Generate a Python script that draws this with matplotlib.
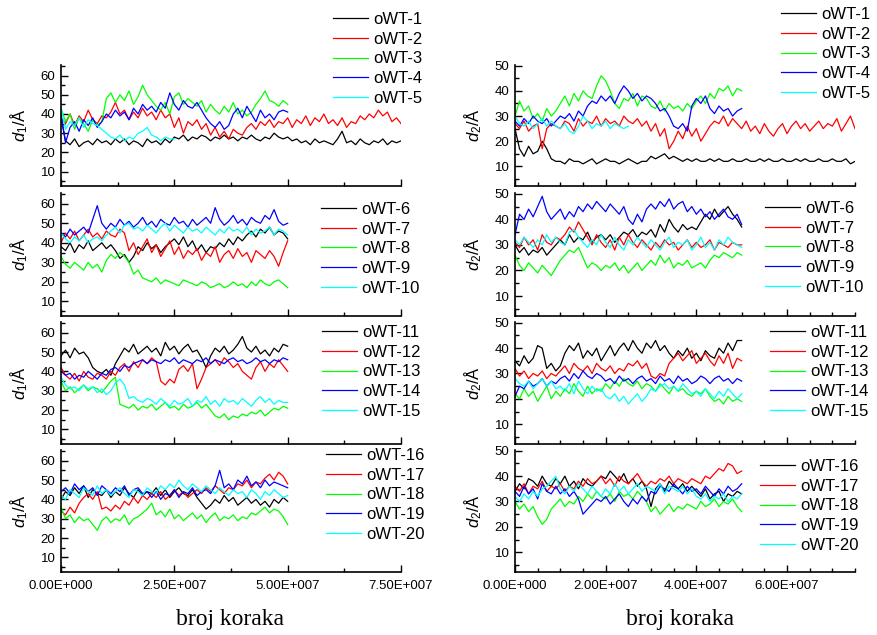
import numpy as np
import matplotlib
matplotlib.use('Agg')
import matplotlib.pyplot as plt
from matplotlib.ticker import MultipleLocator, FuncFormatter

plt.rcParams['font.family'] = ['Liberation Sans', 'DejaVu Sans']
plt.rcParams['mathtext.fontset'] = 'custom'
plt.rcParams['mathtext.it'] = 'Liberation Sans:italic'
plt.rcParams['mathtext.rm'] = 'Liberation Sans'

# one sample every 1e6 steps
STEP = 1e6

# ---- d1 (left column) ----
d1_wt1 = [38,26,24,27,23,25,26,24,27,25, 26,24,27,25,27,24,26,25,23,27,
          25,26,24,27,25,28,27,29,26,28, 27,29,28,26,28,27,29,27,28,26,
          28,27,29,27,26,28,27,30,28,27, 28,26,27,25,26,24,27,25,26,25,
          24,27,31,25,26,24,27,25,24,26, 25,27,24,26,25,26]
d1_wt2 = [38,35,40,34,39,36,42,37,35,39, 38,41,46,40,42,37,41,38,43,39,
          41,37,42,38,40,33,38,30,36,34, 37,32,35,29,33,28,31,27,32,30,
          29,33,35,32,36,34,37,33,36,35, 38,33,37,35,39,34,38,36,40,35,
          37,34,38,33,36,35,39,37,40,38, 42,39,41,36,38,35]
d1_wt3 = [43,36,40,32,38,35,31,37,34,36, 48,51,46,50,47,52,45,49,55,50,
          47,44,42,46,40,49,51,45,48,46, 44,47,41,45,42,40,44,41,46,40,
          42,39,41,45,48,52,47,46,44,47, 45]
d1_wt4 = [40,25,33,36,31,37,34,38,33,36, 40,38,42,39,41,37,43,40,45,42,
          44,41,46,43,51,45,42,47,44,43, 46,42,38,35,33,36,32,34,40,43,
          38,44,40,36,42,38,40,37,41,42, 41]
d1_wt5 = [43,32,36,34,38,33,37,35,34,32, 30,28,27,29,26,28,27,30,31,33,
          29,28,26,28,27,27]

d1_wt6 = [38,36,40,35,39,37,41,36,38,40, 37,39,36,32,34,30,33,38,36,40,
          37,39,35,38,40,42,39,43,38,41, 36,39,35,38,37,40,38,42,39,43,
          41,44,46,43,47,45,48,44,46,45, 42]
d1_wt7 = [40,45,42,46,41,44,47,43,45,42, 46,44,43,47,45,36,40,34,38,42,
          35,39,33,37,41,34,38,32,36,34, 37,31,35,33,38,30,34,36,32,37,
          33,35,30,36,34,32,36,33,28,35, 41]
d1_wt8 = [33,29,27,30,28,26,30,27,29,25, 31,34,32,35,33,30,24,26,22,21,
          20,22,19,21,20,19,18,21,20,19, 18,20,19,17,18,19,17,18,20,18,
          19,17,20,18,21,19,18,20,21,19, 17]
d1_wt9 = [45,43,47,44,46,48,45,52,59,50, 47,50,48,52,49,51,48,50,53,49,
          51,48,52,50,49,53,50,51,48,52, 49,51,53,50,58,52,49,51,54,50,
          52,49,53,51,50,54,52,57,51,49, 50]
d1_wt10 = [45,42,40,43,41,44,40,42,43,41, 44,46,48,45,49,50,47,48,46,49,
           47,45,48,50,46,49,47,45,48,46, 47,45,48,46,44,47,45,48,46,47,
           45,48,44,47,45,46,48,44,47,46, 44]

d1_wt11 = [48,51,47,52,49,50,47,42,40,39, 41,38,44,48,52,50,54,49,51,53,
           50,52,48,55,51,53,49,52,54,50, 51,47,42,48,52,50,53,49,51,54,
           58,52,50,53,49,51,48,52,50,54, 53]
d1_wt12 = [42,38,36,39,35,40,37,36,39,38, 36,40,38,42,44,40,45,42,46,44,
           47,45,35,33,36,34,41,43,40,44, 31,36,42,44,46,43,47,45,42,44,
           40,38,36,42,45,40,44,42,46,43, 40]
d1_wt13 = [35,30,32,29,31,33,30,32,31,29, 32,35,37,23,22,21,23,20,22,21,
           23,20,22,24,21,22,20,23,21,22, 24,21,23,20,17,16,18,15,17,16,
           18,17,19,18,20,17,19,21,20,22, 21]
d1_wt14 = [40,38,39,36,38,37,40,38,36,39, 38,41,42,40,43,42,44,45,46,44,
           46,45,44,46,45,47,44,46,45,44, 46,45,47,44,46,45,44,46,47,45,
           46,44,45,47,45,46,44,46,45,47, 46]
d1_wt15 = [37,33,31,32,30,33,31,32,29,31, 28,30,34,36,33,26,27,25,24,26,
           25,23,26,24,22,25,23,24,26,22, 25,24,27,23,25,22,26,24,25,23,
           26,24,22,25,27,24,26,23,25,24, 24]

d1_wt16 = [40,44,42,46,43,47,41,45,43,42, 45,41,44,42,46,43,41,45,42,44,
           43,46,42,45,41,44,46,43,42,45, 41,38,35,37,40,38,42,39,41,37,
           39,41,38,40,37,39,36,40,38,41, 39]
d1_wt17 = [34,32,36,33,38,41,43,40,44,35, 36,34,37,35,39,37,41,38,42,40,
           43,41,44,40,42,45,42,44,41,43, 45,43,46,44,47,45,43,46,45,48,
           47,50,46,49,48,51,53,50,54,52, 48]
d1_wt18 = [36,30,32,28,31,29,30,27,24,29, 31,28,30,29,32,27,30,31,33,35,
           38,32,34,31,35,30,32,29,31,33, 30,32,28,31,33,29,31,30,32,29,
           31,30,33,32,34,36,33,35,34,31, 27]
d1_wt19 = [44,46,43,48,45,47,44,46,42,47, 45,43,46,44,47,42,45,46,43,44,
           41,44,40,43,42,45,41,44,43,46, 42,44,45,43,47,55,46,48,45,50,
           48,52,47,49,46,50,47,49,48,47, 46]
d1_wt20 = [42,40,45,43,41,46,44,42,47,43, 45,42,44,46,43,41,45,44,42,46,
           44,43,47,45,48,46,50,47,45,48, 46,44,47,45,43,46,44,42,45,43,
           44,41,45,43,40,44,42,45,43,41, 42]

# ---- d2 (right column) ----
d2_wt1 = [25,17,14,18,15,16,20,17,13,12, 12,11,13,12,12,11,12,13,11,12,
          13,12,12,11,12,13,12,11,12,12, 14,13,14,15,13,14,13,12,13,12,
          13,12,12,13,12,13,12,12,13,12, 12,13,12,12,13,12,13,12,12,13,
          12,12,13,12,13,12,12,13,12,12, 13,12,12,13,11,12]
d2_wt2 = [27,25,28,24,26,27,17,25,27,26, 25,28,27,24,29,26,28,27,30,26,
          29,27,28,26,30,28,27,29,26,28, 24,27,22,25,17,20,24,21,26,22,
          25,20,23,26,28,27,30,26,29,27, 25,28,24,26,23,27,24,22,25,27,
          23,26,28,25,27,24,26,28,25,27, 26,29,24,27,30,25]
d2_wt3 = [30,36,32,34,29,31,28,33,30,32, 35,38,34,39,36,40,38,37,42,46,
          44,40,35,33,37,36,39,34,38,37, 34,33,36,32,35,33,34,32,35,33,
          36,38,35,39,37,41,40,42,38,41, 40]
d2_wt4 = [28,26,29,27,30,28,27,29,26,28, 30,29,31,28,32,30,34,36,35,38,
          36,38,35,39,42,40,37,39,36,38, 37,35,32,33,30,26,25,27,24,34,
          37,35,38,33,31,34,32,33,30,32, 33]
d2_wt5 = [30,27,26,28,25,27,29,26,28,26, 25,27,24,23,26,30,28,25,27,26,
          28,25,27,26,25,26]

d2_wt6 = [30,27,29,26,28,27,29,26,28,30, 32,30,34,31,33,32,35,31,33,34,
          32,34,31,33,35,34,36,33,35,34, 36,33,38,35,40,37,35,38,36,37,
          36,39,42,40,44,41,43,45,42,40, 37]
d2_wt7 = [31,29,33,30,32,28,34,31,30,33, 32,34,37,35,39,36,33,30,34,31,
          29,32,28,33,30,34,31,29,32,30, 28,31,29,32,30,31,28,30,32,29,
          31,29,30,32,28,31,30,29,31,30, 30]
d2_wt8 = [26,22,20,23,21,19,22,20,18,21, 24,26,28,27,29,25,21,23,22,20,
          22,21,23,20,22,19,21,23,20,22, 24,22,26,23,25,21,23,22,24,21,
          22,23,21,24,26,25,27,26,25,27, 26]
d2_wt9 = [34,42,40,44,41,45,49,43,40,42, 44,40,43,41,45,43,46,44,47,45,
          43,46,44,42,45,40,38,42,39,44, 46,44,47,45,48,44,46,47,43,45,
          42,44,41,43,40,42,44,41,40,42, 38]
d2_wt10 = [32,30,33,31,29,32,30,34,31,33, 31,30,35,36,33,31,29,32,30,34,
           31,29,33,30,28,32,30,33,31,29, 32,30,28,31,33,29,31,30,32,28,
           30,33,29,31,28,32,30,33,31,30, 29]

d2_wt11 = [35,33,37,34,36,41,40,32,34,31, 33,38,41,39,42,36,39,37,40,35,
           38,41,37,40,42,39,43,40,38,42, 40,43,39,41,38,36,39,37,40,36,
           38,35,39,37,36,40,38,42,39,43, 43]
d2_wt12 = [32,29,31,28,30,29,31,28,30,29, 31,33,30,34,32,31,33,30,34,32,
           31,33,30,32,31,34,33,35,32,34, 29,28,30,29,34,36,38,35,37,39,
           34,36,38,35,33,37,34,38,32,36, 35]
d2_wt13 = [22,20,24,21,23,19,22,25,20,23, 21,24,22,26,23,21,25,22,24,23,
           26,24,27,25,28,26,25,27,24,26, 25,23,26,24,22,25,23,24,22,21,
           23,22,24,21,19,20,18,21,19,20, 19]
d2_wt14 = [21,25,24,27,25,26,28,25,27,26, 28,29,27,30,28,31,29,28,30,29,
           27,28,26,29,27,28,26,28,29,27, 28,26,29,27,28,26,29,27,28,26,
           27,29,28,26,28,29,27,28,26,28, 27]
d2_wt15 = [28,26,25,27,24,26,28,25,27,24, 25,23,26,22,27,24,22,25,23,24,
           21,20,22,19,21,18,20,22,19,21, 24,23,25,26,24,25,23,26,24,22,
           23,21,24,22,20,23,21,24,22,20, 22]

d2_wt16 = [34,37,35,39,38,36,40,37,36,39, 37,40,36,38,35,39,37,36,38,40,
           39,42,40,38,41,37,39,36,38,35, 28,35,37,34,38,36,35,37,34,36,
           34,32,35,31,33,34,30,33,32,34, 33]
d2_wt17 = [36,34,37,33,36,35,38,34,36,35, 37,34,36,35,38,36,39,37,38,40,
           37,39,36,40,38,37,39,41,38,36, 38,37,39,38,40,37,39,38,37,39,
           38,37,40,39,41,43,42,45,44,41, 42]
d2_wt18 = [30,27,29,26,28,24,21,23,27,29, 31,28,30,29,32,30,33,31,34,32,
           31,33,30,34,32,33,31,34,32,30, 26,28,25,27,29,26,28,27,29,28,
           27,30,28,29,31,28,30,29,31,28, 26]
d2_wt19 = [34,32,36,33,35,31,37,34,33,36, 33,35,32,34,31,25,27,29,31,30,
           32,29,31,33,30,28,31,29,32,30, 34,33,36,35,34,37,35,33,36,34,
           35,33,36,34,32,35,33,36,34,35, 37]
d2_wt20 = [32,30,33,31,34,32,35,36,38,40, 35,33,36,34,37,35,33,36,34,32,
           35,33,37,34,36,33,35,37,34,36, 35,34,37,33,36,35,34,36,33,35,
           32,31,33,30,32,31,33,30,32,31, 33]

colors = ['#000000', '#ff0000', '#00ff00', '#0000ff', '#00ffff']

left_rows = [[d1_wt1, d1_wt2, d1_wt3, d1_wt4, d1_wt5],
             [d1_wt6, d1_wt7, d1_wt8, d1_wt9, d1_wt10],
             [d1_wt11, d1_wt12, d1_wt13, d1_wt14, d1_wt15],
             [d1_wt16, d1_wt17, d1_wt18, d1_wt19, d1_wt20]]
right_rows = [[d2_wt1, d2_wt2, d2_wt3, d2_wt4, d2_wt5],
              [d2_wt6, d2_wt7, d2_wt8, d2_wt9, d2_wt10],
              [d2_wt11, d2_wt12, d2_wt13, d2_wt14, d2_wt15],
              [d2_wt16, d2_wt17, d2_wt18, d2_wt19, d2_wt20]]


def sci_fmt(v, pos):
    if v == 0:
        return '0.00E+000'
    e = int(np.floor(np.log10(abs(v))))
    return '%.2fE+%03d' % (v / 10**e, e)


W, H = 877, 635
fig = plt.figure(figsize=(W / 100, H / 100), dpi=100)

col_x = [61, 515]
col_w = 340
row_top = [65, 193, 322, 450]
row_bot = [186, 316, 444, 572]

# legend upper-left corners in pixels
leg_pos = [[(333, 12), (321, 202), (322, 325), (326, 448)],
           [(781, 7), (765, 201), (770, 325), (760, 459)]]

for c, rows in enumerate([left_rows, right_rows]):
    for r, series in enumerate(rows):
        ax = fig.add_axes([col_x[c] / W, 1 - row_bot[r] / H,
                           col_w / W, (row_bot[r] - row_top[r]) / H])
        handles = []
        for k, vals in enumerate(series):
            x = np.arange(len(vals)) * STEP
            h, = ax.plot(x, vals, color=colors[k], lw=0.9)
            handles.append(h)
        labels = ['oWT-%d' % (r * 5 + k + 1) for k in range(5)]

        ax.set_xlim(0, 7.5e7)
        if c == 0:
            ax.set_ylim(2.5, 65.5)
            ax.xaxis.set_major_locator(MultipleLocator(2.5e7))
            ax.xaxis.set_minor_locator(MultipleLocator(1.25e7))
            ax.set_ylabel(r'$d_1$/Å', fontsize=12)
        else:
            ax.set_ylim(2.2, 50.3)
            ax.xaxis.set_major_locator(MultipleLocator(2e7))
            ax.xaxis.set_minor_locator(MultipleLocator(5e6))
            ax.set_ylabel(r'$d_2$/Å', fontsize=12)
        ax.yaxis.set_label_coords(-0.09, 0.5)
        ax.yaxis.set_major_locator(MultipleLocator(10))
        ax.yaxis.set_minor_locator(MultipleLocator(5))
        ax.xaxis.set_major_formatter(FuncFormatter(sci_fmt))

        for s in ['top', 'right']:
            ax.spines[s].set_visible(False)
        for s in ['left', 'bottom']:
            ax.spines[s].set_linewidth(1.2)
        ax.tick_params(which='both', direction='in', width=1.0,
                       labelsize=9.5, pad=4)
        ax.tick_params(which='major', length=5)
        ax.tick_params(which='minor', length=3)
        if r < 3:
            ax.tick_params(axis='x', labelbottom=False)
        else:
            ax.tick_params(axis='x', pad=6)

        lx, ly = leg_pos[c][r]
        fig.legend(handles, labels, loc='upper left',
                   bbox_to_anchor=(lx / W, 1 - ly / H),
                   bbox_transform=fig.transFigure, frameon=False,
                   fontsize=12, handlelength=2.1, handletextpad=0.3,
                   labelspacing=0.28, borderpad=0, borderaxespad=0)

fig.text(230 / W, 1 - 620 / H, 'broj koraka', family='Liberation Serif',
         fontsize=17, ha='center', va='center')
fig.text(680 / W, 1 - 620 / H, 'broj koraka', family='Liberation Serif',
         fontsize=17, ha='center', va='center')

fig.savefig('out.png', dpi=100)
